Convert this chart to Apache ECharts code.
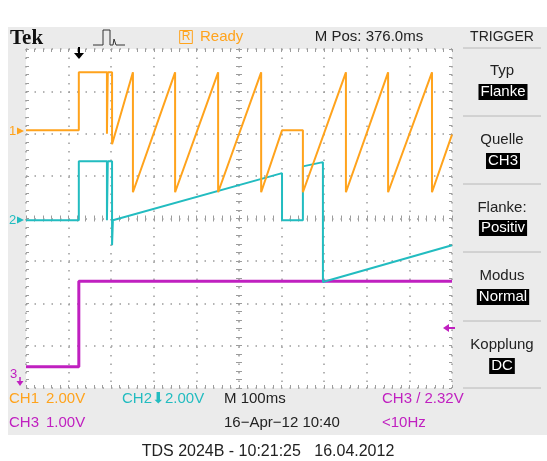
<!DOCTYPE html>
<html>
<head>
<meta charset="utf-8">
<style>
  html, body { margin: 0; padding: 0; background: #fff; }
  #chart { width: 547px; height: 461px; }
</style>
<script src="https://cdn.jsdelivr.net/npm/echarts@6/dist/echarts.min.js"></script>
</head>
<body>
<div id="chart"></div>
<script>
// screen time in ms from the left edge (100 ms/div), level in divisions from the bottom
var ch1Time  = [0, 124, 124, 190, 190, 192, 192, 202, 202, 251, 251, 350, 350, 451, 451, 552, 552, 601, 650, 650, 751, 751, 850, 850, 953, 953, 1000]
var ch1Level = [6.08, 6.08, 7.45, 7.45, 6.0, 6.0, 7.45, 7.45, 5.75, 7.45, 4.62, 7.45, 4.62, 7.45, 4.62, 7.45, 4.62, 6.08, 6.08, 4.62, 7.45, 4.62, 7.45, 4.62, 7.45, 4.62, 5.98]

var ch2Time  = [0, 124, 124, 190, 190, 192, 192, 202, 202, 204, 601, 601, 650, 650, 697, 697, 1000]
var ch2Level = [3.96, 3.96, 5.35, 5.35, 3.96, 3.96, 5.35, 5.35, 3.37, 3.96, 5.07, 3.96, 3.96, 5.23, 5.33, 2.5, 3.37]

var ch3Time  = [0, 124, 124, 1000]
var ch3Level = [0.5, 0.5, 2.52, 2.52]

var ORANGE = '#ffa31c'
var CYAN = '#22bcc0'
var MAGENTA = '#c020c0'
var DOT = '#9c9c9c'
var FONT = '"Liberation Sans", Arial, sans-serif'

function zip(xs, ys) {
  return xs.map(function (x, i) { return [x, ys[i]] })
}

var gridBox = { left: 26, top: 49, width: 426, height: 339 }

function tickAxis(extra) {
  var base = {
    type: 'value',
    axisLabel: { show: false },
    splitLine: { show: false },
    axisLine: { show: false, onZero: false },
    axisTick: { show: true, inside: true, length: 3, lineStyle: { color: DOT } },
    minorTick: { show: true, splitNumber: 5, length: 3, lineStyle: { color: DOT } }
  }
  return Object.assign(base, extra)
}

var dotted = { show: true, lineStyle: { color: DOT, width: 1.5, type: [1.5, 7] } }

function txt(text, x, y, color, size, opts) {
  opts = opts || {}
  return {
    type: 'text',
    x: x,
    y: y,
    z: 5,
    style: Object.assign({
      text: text,
      fill: color,
      font: (opts.weight || 'normal') + ' ' + size + 'px ' + (opts.family || FONT),
      textAlign: opts.align || 'left',
      align: opts.align || 'left',
      textVerticalAlign: 'middle',
      verticalAlign: 'middle'
    }, opts.style || {})
  }
}

function boxed(text, x, y) {
  return txt(text, x, y, '#fff', 15, {
    align: 'center',
    style: { backgroundColor: '#000', padding: [1, 2, 0, 2] }
  })
}

var graphics = [
  { type: 'rect', z: -10, shape: { x: 8, y: 27, width: 539, height: 408 }, style: { fill: '#ebebeb' } },
  { type: 'rect', z: -9, shape: { x: 26, y: 49, width: 426, height: 339 }, style: { fill: '#fff' } },

  // header
  txt('Tek', 10, 39, '#111', 21, { weight: 'bold', family: '"Liberation Serif", "DejaVu Serif", serif' }),
  { type: 'polyline', z: 5, shape: { points: [[93, 45], [103, 45], [103, 30], [110, 30], [110, 45], [113, 45], [114, 39], [116, 45], [125, 45]] },
    style: { stroke: '#333', lineWidth: 1, fill: null } },
  txt('R', 186, 37, ORANGE, 12, { align: 'center', style: { borderColor: ORANGE, borderWidth: 1, padding: [1, 2, 0, 2] } }),
  txt('Ready', 200, 37, ORANGE, 15),
  txt('M Pos: 376.0ms', 369, 37, '#222', 15, { align: 'center' }),
  txt('TRIGGER', 502, 37, '#222', 14, { align: 'center' }),

  // trigger position arrow
  { type: 'line', z: 5, shape: { x1: 79, y1: 47, x2: 79, y2: 54 }, style: { stroke: '#000', lineWidth: 2 } },
  { type: 'polygon', z: 5, shape: { points: [[74, 53], [84, 53], [79, 59]] }, style: { fill: '#000' } },

  // channel ground markers
  txt('1', 9, 131, ORANGE, 13),
  { type: 'polygon', z: 5, shape: { points: [[17, 127.5], [24, 131], [17, 134.5]] }, style: { fill: ORANGE } },
  txt('2', 9, 220, CYAN, 13),
  { type: 'polygon', z: 5, shape: { points: [[17, 216.5], [24, 220], [17, 223.5]] }, style: { fill: CYAN } },
  txt('3', 10, 374, MAGENTA, 13),
  { type: 'line', z: 5, shape: { x1: 20, y1: 377, x2: 20, y2: 383 }, style: { stroke: MAGENTA, lineWidth: 1.5 } },
  { type: 'polygon', z: 5, shape: { points: [[16.5, 381], [23.5, 381], [20, 386]] }, style: { fill: MAGENTA } },

  // trigger level marker
  { type: 'polygon', z: 5, shape: { points: [[443, 328], [449, 324], [449, 332]] }, style: { fill: MAGENTA } },
  { type: 'line', z: 5, shape: { x1: 448, y1: 328, x2: 455, y2: 328 }, style: { stroke: MAGENTA, lineWidth: 2 } },

  // trigger menu
  txt('Typ', 502, 71, '#222', 15, { align: 'center' }),
  boxed('Flanke', 503, 92),
  txt('Quelle', 502, 140, '#222', 15, { align: 'center' }),
  boxed('CH3', 503, 161),
  txt('Flanke:', 502, 208, '#222', 15, { align: 'center' }),
  boxed('Positiv', 503, 228),
  txt('Modus', 502, 276, '#222', 15, { align: 'center' }),
  boxed('Normal', 503, 297),
  txt('Kopplung', 502, 345, '#222', 15, { align: 'center' }),
  boxed('DC', 502, 366),

  // status lines
  txt('CH1', 9, 399, ORANGE, 15),
  txt('2.00V', 46, 399, ORANGE, 15),
  txt('CH2\u2b072.00V', 122, 399, CYAN, 15),
  txt('M 100ms', 224, 399, '#222', 15),
  txt('CH3 / 2.32V', 382, 399, MAGENTA, 15),
  txt('CH3', 9, 423, MAGENTA, 15),
  txt('1.00V', 46, 423, MAGENTA, 15),
  txt('16\u2212Apr\u221212 10:40', 224, 423, '#222', 15),
  txt('<10Hz', 382, 423, MAGENTA, 15),

  txt('TDS 2024B - 10:21:25   16.04.2012', 268, 452, '#222', 16, { align: 'center' })
]

;[48, 116, 184, 252, 321, 388].forEach(function (y) {
  graphics.push({ type: 'line', z: 4, shape: { x1: 463, y1: y, x2: 541, y2: y }, style: { stroke: '#b8b8b8', lineWidth: 1 } })
})

var chart = echarts.init(document.getElementById('chart'))

chart.setOption({
  animation: false,
  backgroundColor: '#fff',
  grid: [
    Object.assign({}, gridBox),
    Object.assign({}, gridBox),
    Object.assign({}, gridBox)
  ],
  xAxis: [
    tickAxis({ gridIndex: 0, min: 0, max: 1000, interval: 100, position: 'bottom', splitLine: dotted }),
    tickAxis({ gridIndex: 0, min: 0, max: 1000, interval: 100, position: 'top' }),
    tickAxis({ gridIndex: 1, min: -5, max: 5, interval: 1, axisLine: { show: false, onZero: true }, axisTick: { show: true, inside: false, length: 3, lineStyle: { color: DOT } } }),
    tickAxis({ gridIndex: 2, min: -5, max: 5, interval: 1, axisLine: { show: false, onZero: true } })
  ],
  yAxis: [
    tickAxis({ gridIndex: 0, min: 0, max: 8, interval: 1, position: 'left', splitLine: dotted }),
    tickAxis({ gridIndex: 0, min: 0, max: 8, interval: 1, position: 'right' }),
    tickAxis({ gridIndex: 1, min: -4, max: 4, interval: 1, axisLine: { show: false, onZero: true }, axisTick: { show: true, inside: false, length: 3, lineStyle: { color: DOT } } }),
    tickAxis({ gridIndex: 2, min: -4, max: 4, interval: 1, axisLine: { show: false, onZero: true } })
  ],
  graphic: graphics,
  series: [
    {
      name: 'CH3', type: 'line', xAxisIndex: 0, yAxisIndex: 0,
      data: zip(ch3Time, ch3Level), showSymbol: false,
      lineStyle: { color: MAGENTA, width: 3 }, z: 3
    },
    {
      name: 'CH2', type: 'line', xAxisIndex: 0, yAxisIndex: 0,
      data: zip(ch2Time, ch2Level), showSymbol: false,
      lineStyle: { color: CYAN, width: 2 }, z: 4
    },
    {
      name: 'CH1', type: 'line', xAxisIndex: 0, yAxisIndex: 0,
      data: zip(ch1Time, ch1Level), showSymbol: false,
      lineStyle: { color: ORANGE, width: 2 }, z: 5
    }
  ]
})
</script>
</body>
</html>
